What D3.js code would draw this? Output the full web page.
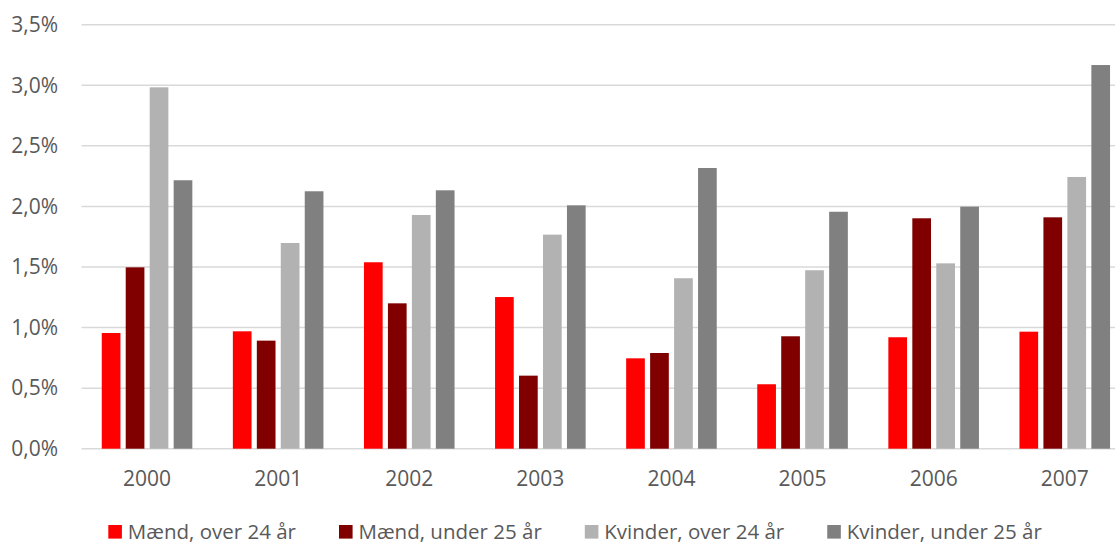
<!DOCTYPE html>
<html>
<head>
<meta charset="utf-8">
<script src="https://cdn.jsdelivr.net/npm/d3@7"></script>
<style>
  body { margin: 0; background: #fff; }
  text { font-family: "Open Sans", sans-serif; fill: #595959; }
</style>
</head>
<body>
<script>
// data
var years = ['2000', '2001', '2002', '2003', '2004', '2005', '2006', '2007']
var seriesNames = ['Mænd, over 24 år', 'Mænd, under 25 år', 'Kvinder, over 24 år', 'Kvinder, under 25 år']
var maendOver24 = [0.955, 0.969, 1.539, 1.252, 0.746, 0.532, 0.920, 0.966]
var maendUnder25 = [1.497, 0.892, 1.200, 0.603, 0.790, 0.928, 1.902, 1.910]
var kvinderOver24 = [2.983, 1.698, 1.929, 1.767, 1.407, 1.473, 1.530, 2.243]
var kvinderUnder25 = [2.216, 2.125, 2.133, 2.009, 2.317, 1.956, 1.998, 3.167]
var yTicks = [0, 0.5, 1, 1.5, 2, 2.5, 3, 3.5]
var colors = ['#ff0000', '#800000', '#b2b2b2', '#808080']

var allSeries = [maendOver24, maendUnder25, kvinderOver24, kvinderUnder25]

var W = 1115, H = 543
var plotLeft = 81.5, plotRight = 1115

var svg = d3.select('body').append('svg')
    .attr('width', W)
    .attr('height', H)

// x scales: one band per year, then one sub band per series
var x = d3.scaleBand()
    .domain(years)
    .range([plotLeft, 1130.3])
    .paddingInner(0.309)
    .paddingOuter(0.1545)

var xSub = d3.scaleBand()
    .domain(d3.range(seriesNames.length))
    .range([0, x.bandwidth()])
    .paddingInner(0.22)

var y = d3.scaleLinear()
    .domain([0, 3.5])
    .range([448.7, 24.7])

var fmt = function(d) { return d.toFixed(1).replace('.', ',') + '%' }

// gridlines
svg.append('g').attr('id', 'grid')
    .selectAll('line')
    .data(yTicks)
    .enter()
    .append('line')
    .attr('x1', plotLeft)
    .attr('x2', plotRight)
    .attr('y1', function(d) { return y(d) })
    .attr('y2', function(d) { return y(d) })
    .attr('stroke', '#d9d9d9')
    .attr('stroke-width', 1.5)

// y axis labels
var yAxis = svg.append('g')
    .attr('transform', 'translate(58,0)')
    .call(d3.axisLeft(y).tickValues(yTicks).tickFormat(fmt).tickSize(0).tickPadding(0))
yAxis.select('.domain').remove()
yAxis.selectAll('text')
    .attr('font-size', '21px')
    .attr('font-family', '"Open Sans", sans-serif')
    .attr('fill', '#595959')

// bars
var groups = svg.append('g').attr('id', 'bars')
    .selectAll('g')
    .data(years)
    .enter()
    .append('g')
    .attr('transform', function(d) { return 'translate(' + x(d) + ',0)' })

groups.selectAll('rect')
    .data(function(d, i) {
        return allSeries.map(function(s, k) { return {k: k, v: s[i]} })
    })
    .enter()
    .append('rect')
    .attr('x', function(d) { return xSub(d.k) })
    .attr('width', xSub.bandwidth())
    .attr('y', function(d) { return y(d.v) })
    .attr('height', function(d) { return y(0) - y(d.v) })
    .attr('fill', function(d) { return colors[d.k] })

// x axis labels
var xAxis = svg.append('g')
    .attr('transform', 'translate(0,' + y(0) + ')')
    .call(d3.axisBottom(x).tickSize(0).tickPadding(22))
xAxis.select('.domain').remove()
xAxis.selectAll('text')
    .attr('font-size', '21px')
    .attr('font-family', '"Open Sans", sans-serif')
    .attr('fill', '#595959')

// legend
var legend = svg.append('g').attr('id', 'legend')
var lx = 108.3
seriesNames.forEach(function(name, i) {
    legend.append('rect')
        .attr('x', lx)
        .attr('y', 525)
        .attr('width', 13.6)
        .attr('height', 13.6)
        .attr('fill', colors[i])
    var t = legend.append('text')
        .attr('x', lx + 19.5)
        .attr('y', 538.5)
        .attr('font-size', '20.5px')
        .text(name)
    lx = lx + 19.5 + t.node().getComputedTextLength() + 43
})
</script>
</body>
</html>
